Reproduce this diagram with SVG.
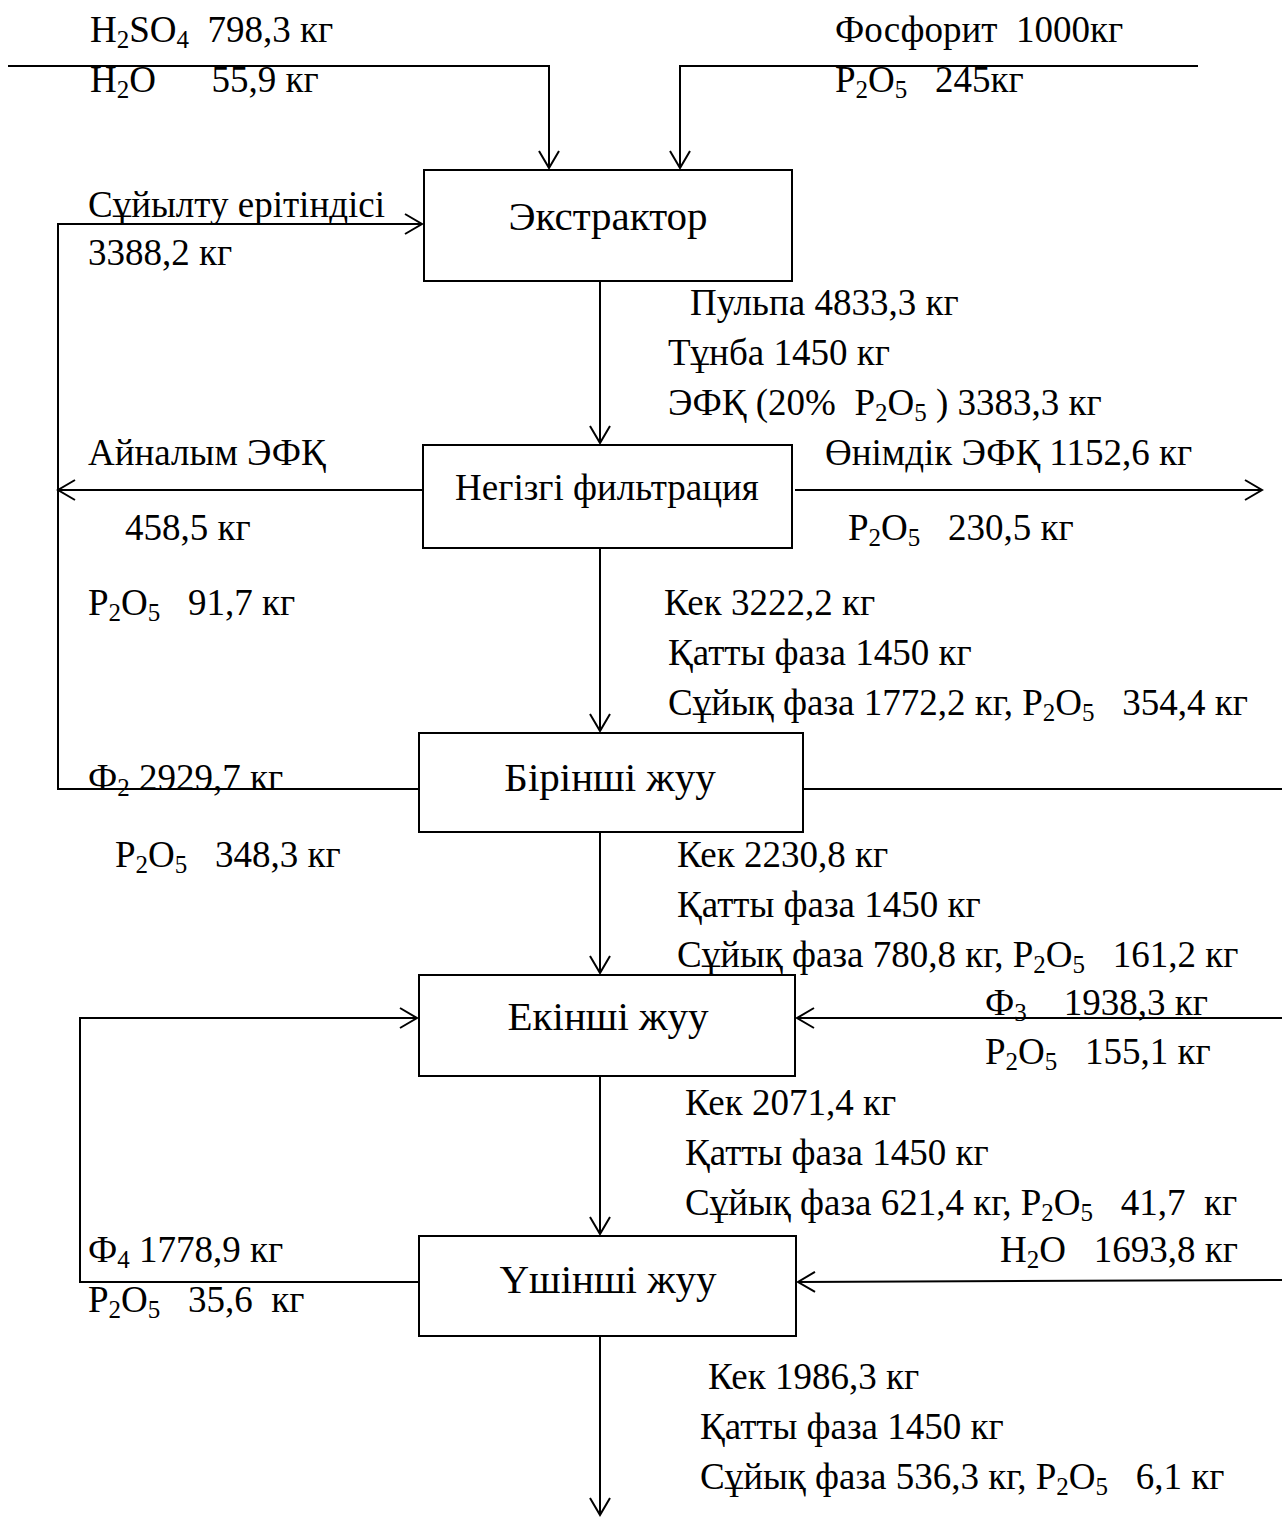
<svg xmlns="http://www.w3.org/2000/svg" width="1282" height="1517" viewBox="0 0 1282 1517">
<style>
text{font-family:"Liberation Serif","Times New Roman",serif;font-size:37px;fill:#000;white-space:pre}
.t{font-size:41px;text-anchor:middle}
.s{font-size:25px}
rect{fill:#fff;stroke:#000;stroke-width:2}
.c path,.c line,.c polyline{fill:none;stroke:#000;stroke-width:2}
</style>
<defs>
<marker id="a" viewBox="0 0 20 22" refX="18" refY="11" markerWidth="20" markerHeight="22" orient="auto" markerUnits="userSpaceOnUse">
<path d="M1,1 L18,11 L1,21" fill="none" stroke="#000" stroke-width="2"/>
</marker>
</defs>
<g class="c" id="connectors">
<polyline points="8,66 549,66 549,168" marker-end="url(#a)"/>
<polyline points="1198,66 680,66 680,168" marker-end="url(#a)"/>
<polyline points="419,789 58,789 58,224 422,224" marker-end="url(#a)"/>
<line x1="423" y1="490" x2="58" y2="490" marker-end="url(#a)"/>
<line x1="600" y1="281" x2="600" y2="443" marker-end="url(#a)"/>
<line x1="795" y1="490" x2="1262" y2="490" marker-end="url(#a)"/>
<line x1="600" y1="548" x2="600" y2="731" marker-end="url(#a)"/>
<line x1="803" y1="789" x2="1282" y2="789"/>
<line x1="600" y1="832" x2="600" y2="973" marker-end="url(#a)"/>
<line x1="1282" y1="1018" x2="797" y2="1018" marker-end="url(#a)"/>
<polyline points="419,1282 80,1282 80,1018 417,1018" marker-end="url(#a)"/>
<line x1="600" y1="1076" x2="600" y2="1234" marker-end="url(#a)"/>
<line x1="1282" y1="1280" x2="798" y2="1282" marker-end="url(#a)"/>
<line x1="600" y1="1336" x2="600" y2="1515" marker-end="url(#a)"/>
</g>
<g id="n1"><rect x="424" y="170" width="368" height="111"/><text class="t" x="608" y="230">Экстрактор</text></g>
<g id="n2"><rect x="423" y="445" width="369" height="103"/><text class="t" x="607" y="500" style="font-size:37px">Негізгі фильтрация</text></g>
<g id="n3"><rect x="419" y="733" width="384" height="99"/><text class="t" x="610" y="791">Бірінші жуу</text></g>
<g id="n4"><rect x="419" y="975" width="376" height="101"/><text class="t" x="608" y="1030">Екінші жуу</text></g>
<g id="n5"><rect x="419" y="1236" width="377" height="100"/><text class="t" x="608" y="1293">Үшінші жуу</text></g>
<g id="labels">
<text x="90" y="42">H<tspan class="s" dy="6">2</tspan><tspan dy="-6">SO</tspan><tspan class="s" dy="6">4</tspan><tspan dy="-6">  798,3 кг</tspan></text>
<text x="90" y="92">H<tspan class="s" dy="6">2</tspan><tspan dy="-6">O      55,9 кг</tspan></text>
<text x="835" y="42">Фосфорит  1000кг</text>
<text x="835" y="92">P<tspan class="s" dy="6">2</tspan><tspan dy="-6">O</tspan><tspan class="s" dy="6">5</tspan><tspan dy="-6">   245кг</tspan></text>
<text x="88" y="217">Сұйылту ерітіндісі</text>
<text x="88" y="265">3388,2 кг</text>
<text x="690" y="315">Пульпа 4833,3 кг</text>
<text x="668" y="365">Тұнба 1450 кг</text>
<text x="668" y="415">ЭФҚ (20%  P<tspan class="s" dy="6">2</tspan><tspan dy="-6">O</tspan><tspan class="s" dy="6">5</tspan><tspan dy="-6"> ) 3383,3 кг</tspan></text>
<text x="88" y="465">Айналым ЭФҚ</text>
<text x="825" y="465">Өнімдік ЭФҚ 1152,6 кг</text>
<text x="125" y="540">458,5 кг</text>
<text x="848" y="540">P<tspan class="s" dy="6">2</tspan><tspan dy="-6">O</tspan><tspan class="s" dy="6">5</tspan><tspan dy="-6">   230,5 кг</tspan></text>
<text x="88" y="615">P<tspan class="s" dy="6">2</tspan><tspan dy="-6">O</tspan><tspan class="s" dy="6">5</tspan><tspan dy="-6">   91,7 кг</tspan></text>
<text x="664" y="615">Кек 3222,2 кг</text>
<text x="668" y="665">Қатты фаза 1450 кг</text>
<text x="668" y="715">Сұйық фаза 1772,2 кг, P<tspan class="s" dy="6">2</tspan><tspan dy="-6">O</tspan><tspan class="s" dy="6">5</tspan><tspan dy="-6">   354,4 кг</tspan></text>
<text x="88" y="790">Ф<tspan class="s" dy="6">2</tspan><tspan dy="-6"> 2929,7 кг</tspan></text>
<text x="115" y="867">P<tspan class="s" dy="6">2</tspan><tspan dy="-6">O</tspan><tspan class="s" dy="6">5</tspan><tspan dy="-6">   348,3 кг</tspan></text>
<text x="677" y="867">Кек 2230,8 кг</text>
<text x="677" y="917">Қатты фаза 1450 кг</text>
<text x="677" y="967">Сұйық фаза 780,8 кг, P<tspan class="s" dy="6">2</tspan><tspan dy="-6">O</tspan><tspan class="s" dy="6">5</tspan><tspan dy="-6">   161,2 кг</tspan></text>
<text x="985" y="1015">Ф<tspan class="s" dy="6">3</tspan><tspan dy="-6">    1938,3 кг</tspan></text>
<text x="985" y="1064">P<tspan class="s" dy="6">2</tspan><tspan dy="-6">O</tspan><tspan class="s" dy="6">5</tspan><tspan dy="-6">   155,1 кг</tspan></text>
<text x="685" y="1115">Кек 2071,4 кг</text>
<text x="685" y="1165">Қатты фаза 1450 кг</text>
<text x="685" y="1215">Сұйық фаза 621,4 кг, P<tspan class="s" dy="6">2</tspan><tspan dy="-6">O</tspan><tspan class="s" dy="6">5</tspan><tspan dy="-6">   41,7  кг</tspan></text>
<text x="88" y="1262">Ф<tspan class="s" dy="6">4</tspan><tspan dy="-6"> 1778,9 кг</tspan></text>
<text x="1000" y="1262">H<tspan class="s" dy="6">2</tspan><tspan dy="-6">O   1693,8 кг</tspan></text>
<text x="88" y="1312">P<tspan class="s" dy="6">2</tspan><tspan dy="-6">O</tspan><tspan class="s" dy="6">5</tspan><tspan dy="-6">   35,6  кг</tspan></text>
<text x="708" y="1389">Кек 1986,3 кг</text>
<text x="700" y="1439">Қатты фаза 1450 кг</text>
<text x="700" y="1489">Сұйық фаза 536,3 кг, P<tspan class="s" dy="6">2</tspan><tspan dy="-6">O</tspan><tspan class="s" dy="6">5</tspan><tspan dy="-6">   6,1 кг</tspan></text>
</g>
</svg>
